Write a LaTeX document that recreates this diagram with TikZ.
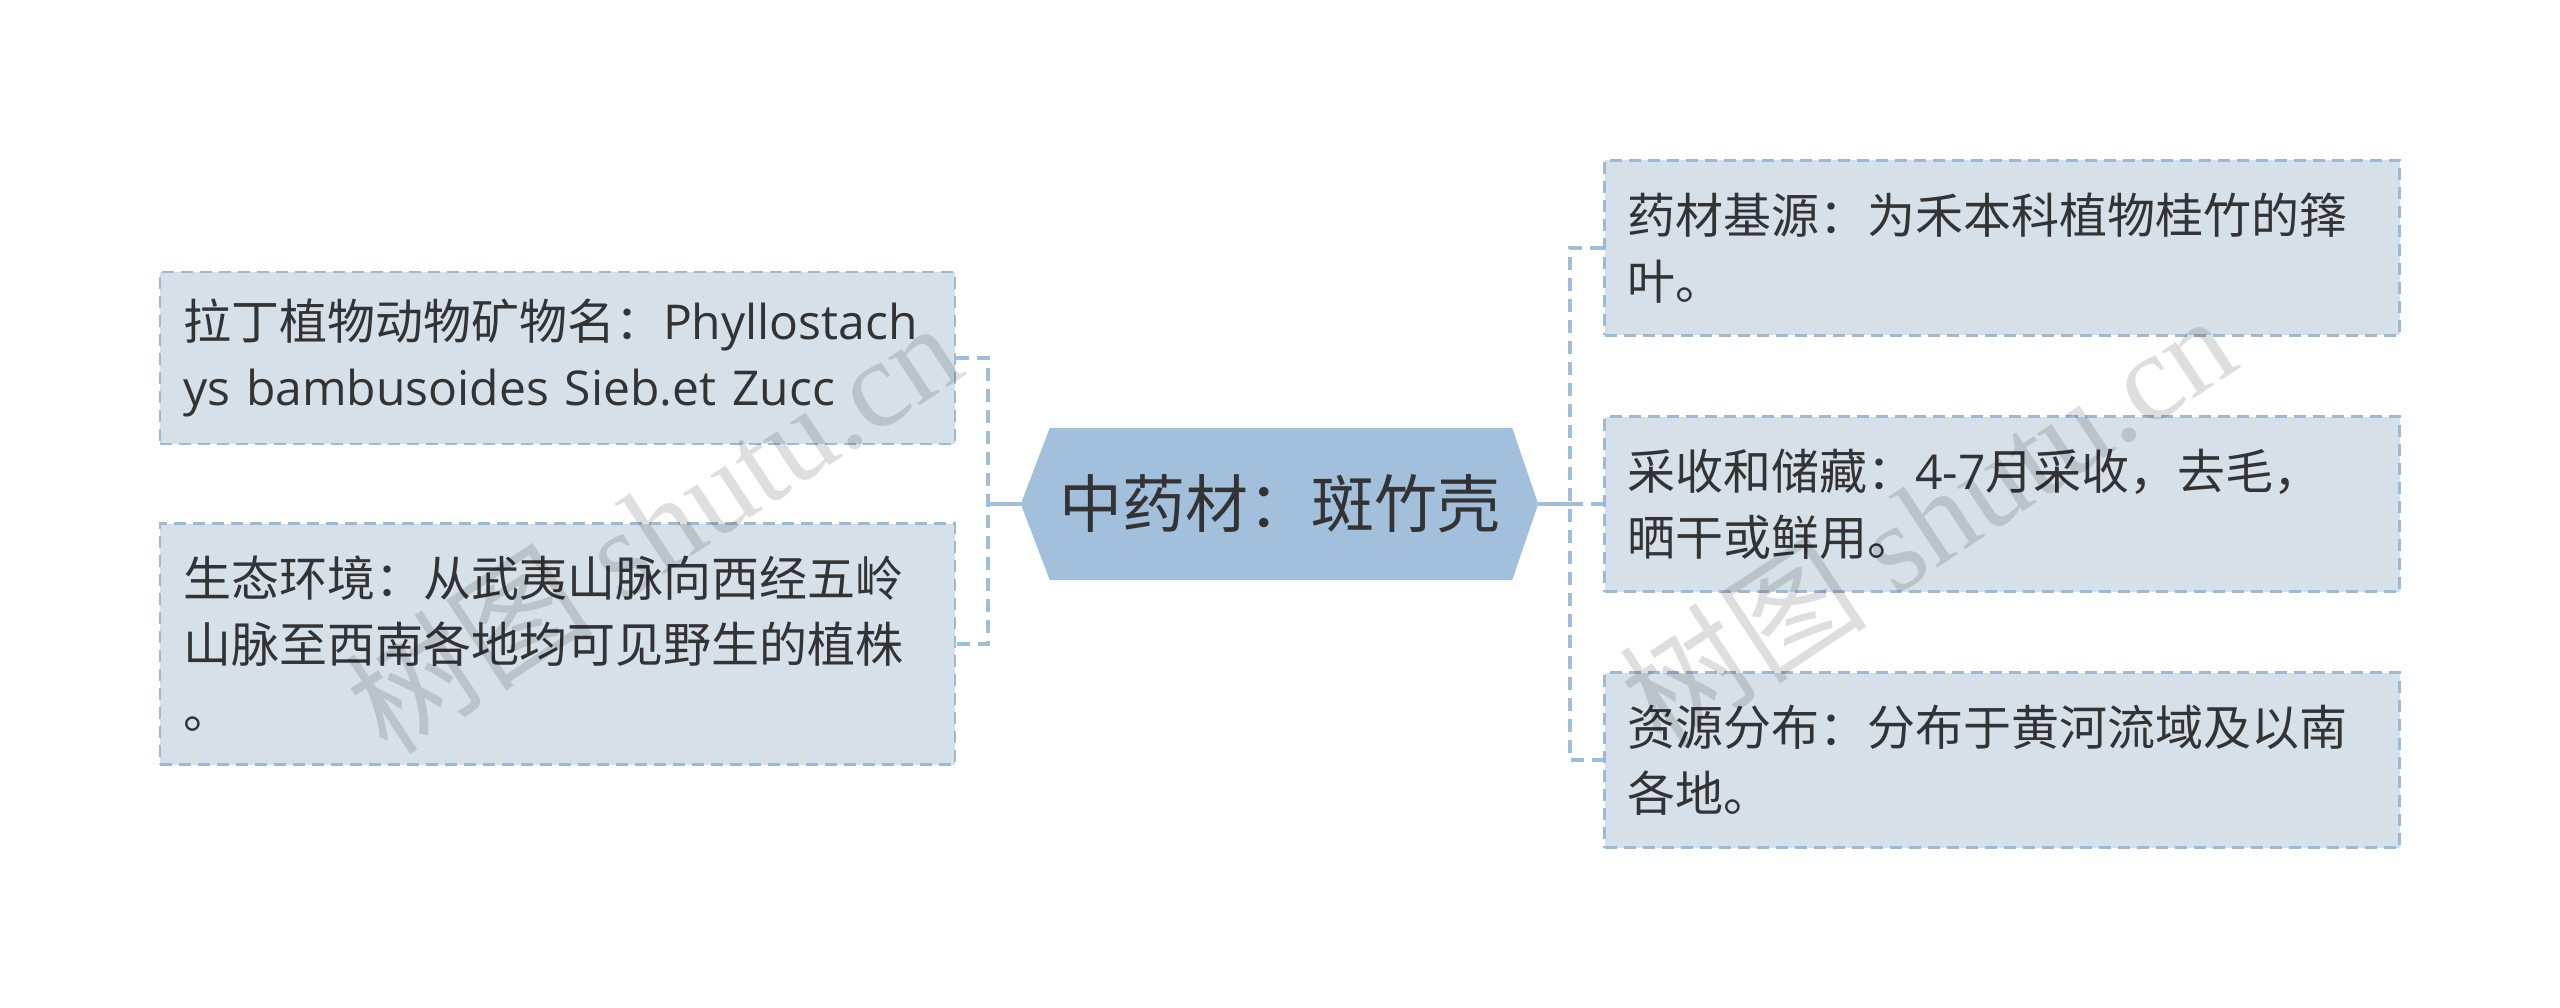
\documentclass[tikz,border=0pt]{standalone}
\usepackage{fontspec}
\setmainfont{Noto Sans CJK SC}
\newfontfamily\lat{Open Sans}
\newfontfamily\wmserif{Liberation Serif}
\usetikzlibrary{calc,backgrounds}
\definecolor{boxfill}{RGB}{213,224,233}
\definecolor{boxline}{RGB}{155,186,213}
\definecolor{cfill}{RGB}{162,192,219}
\definecolor{conncol}{RGB}{160,190,216}
\definecolor{txt}{RGB}{51,51,51}
\begin{document}
\begin{tikzpicture}[x=1pt,y=-1pt,
  leaf/.style={rectangle, draw=boxline, line width=2.8pt, dash pattern=on 12pt off 7pt,
    fill=boxfill, minimum width=795pt, text width=749pt, inner xsep=23pt, inner ysep=0pt,
    align=left, text=txt, font=\fontsize{48}{66}\selectfont},
  centre/.style={rectangle, minimum width=517pt, minimum height=152pt, inner sep=0pt,
    text=txt, font=\fontsize{63}{70}\selectfont},
  conn/.style={draw=conncol, line width=4pt},
  dconn/.style={draw=conncol, line width=4pt, dash pattern=on 13pt off 8pt},
  wm/.style={rotate=33.5, text=black, text opacity=0.13, inner sep=0pt,
    font=\fontsize{124}{124}\selectfont}]
\useasboundingbox (0,0) rectangle (2560,1008);

% central topic
\node[centre] (c) at (1279.5,504) {中药材：斑竹壳};
\begin{scope}[on background layer]
\fill[white] (0,0) rectangle (2560,1008);
\fill[cfill] (c.west) -- ($(c.north west)+(29,0)$) -- ($(c.north east)+(-26,0)$) -- (c.east)
  -- ($(c.south east)+(-26,0)$) -- ($(c.south west)+(29,0)$) -- cycle;
\end{scope}

% left leaves
\node[leaf, minimum height=172pt] (L1) at (557.5,358)
  {拉丁植物动物矿物名：{\lat Phyllostach}\\{\lat ys bambusoides Sieb.et Zucc}};
\node[leaf, minimum height=241pt] (L2) at (557.5,644)
  {生态环境：从武夷山脉向西经五岭\\山脉至西南各地均可见野生的植株\\。};

% right leaves
\node[leaf, minimum height=175pt] (R1) at (2002,248)
  {药材基源：为禾本科植物桂竹的箨\\叶。};
\node[leaf, minimum height=175pt] (R2) at (2002,504)
  {采收和储藏：{\lat 4-7}月采收，去毛，\\晒干或鲜用。};
\node[leaf, minimum height=175pt] (R3) at (2002,760)
  {资源分布：分布于黄河流域及以南\\各地。};

% junctions
\coordinate (lj) at (988,504);
\coordinate (rj) at (1570,504);

% connectors
\draw[conn] (c.west) -- (lj);
\draw[dconn] (L1.east) -| (lj) |- (L2.east);
\draw[conn] (c.east) -- (rj);
\draw[dconn] (R1.west) -| (rj) |- (R3.west);
\draw[dconn] (rj) -- (R2.west);

% watermarks
\node[wm] (w1) at (653,526) {树图{\wmserif\ shutu.cn}};
\node[wm] (w2) at (1927,519) {树图{\wmserif\ shutu.cn}};
\end{tikzpicture}
\end{document}
